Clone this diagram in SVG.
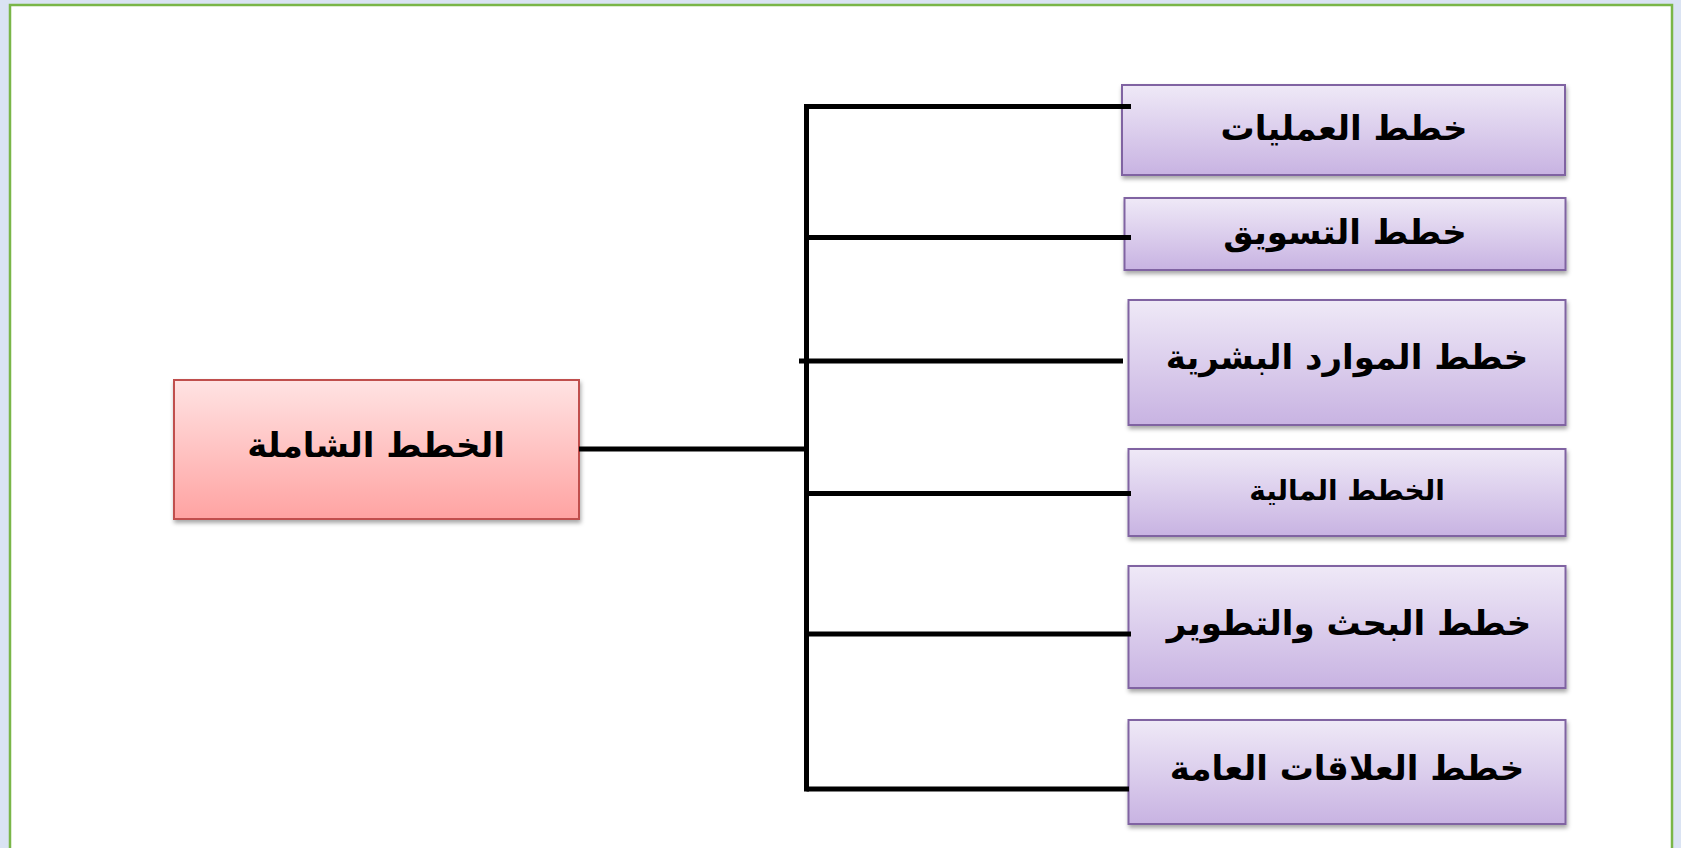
<svg xmlns="http://www.w3.org/2000/svg" width="1681" height="848" viewBox="0 0 1681 848">
<defs>
<linearGradient id="gPurple" x1="0" y1="0" x2="0" y2="1">
<stop offset="0" stop-color="#efe9f7"/>
<stop offset="1" stop-color="#c8b3e2"/>
</linearGradient>
<linearGradient id="gRed" x1="0" y1="0" x2="0" y2="1">
<stop offset="0" stop-color="#ffe3e3"/>
<stop offset="1" stop-color="#ffa3a2"/>
</linearGradient>
<filter id="sh" x="-10%" y="-10%" width="120%" height="130%">
<feDropShadow dx="1" dy="3" stdDeviation="2" flood-color="#000" flood-opacity="0.35"/>
</filter>
</defs>
<style>
.pbox{fill:url(#gPurple);stroke:#8064a2;stroke-width:2;filter:url(#sh)}
.rbox{fill:url(#gRed);stroke:#c0504d;stroke-width:2;filter:url(#sh)}
.lbl{font-family:"DejaVu Sans",sans-serif;font-weight:bold;font-size:34px;fill:#000;text-anchor:middle;dominant-baseline:central}
.conn line{stroke:#000;stroke-width:5}
</style>
<rect x="0" y="0" width="1681" height="848" fill="#dae3f3"/>
<rect x="10" y="5" width="1662" height="860" fill="#ffffff" stroke="#7ab648" stroke-width="2.5"/>
<g id="node-main">
<rect class="rbox" x="174" y="380" width="405" height="139"/>
<text class="lbl" x="376" y="445" direction="rtl">الخطط الشاملة</text>
</g>
<g id="node-operations">
<rect class="pbox" x="1122" y="85" width="443" height="90"/>
<text class="lbl" x="1344" y="128" direction="rtl">خطط العمليات</text>
</g>
<g id="node-marketing">
<rect class="pbox" x="1124.5" y="198" width="441" height="72"/>
<text class="lbl" x="1345" y="232" direction="rtl">خطط التسويق</text>
</g>
<g id="node-hr">
<rect class="pbox" x="1128.5" y="300" width="437" height="125"/>
<text class="lbl" x="1347" y="357" direction="rtl">خطط الموارد البشرية</text>
</g>
<g id="node-finance">
<rect class="pbox" x="1128.5" y="449" width="437" height="87"/>
<text class="lbl" x="1347" y="490" direction="rtl" style="font-size:28px">الخطط المالية</text>
</g>
<g id="node-rd">
<rect class="pbox" x="1128.5" y="566" width="437" height="122"/>
<text class="lbl" x="1349" y="623" direction="rtl">خطط البحث والتطوير</text>
</g>
<g id="node-pr">
<rect class="pbox" x="1128.5" y="720" width="437" height="104"/>
<text class="lbl" x="1347" y="768" direction="rtl">خطط العلاقات العامة</text>
</g>
<g id="connectors" class="conn">
<line x1="806.5" y1="104" x2="806.5" y2="791.5"/>
<line x1="579" y1="449" x2="806.5" y2="449"/>
<line x1="806.5" y1="106.5" x2="1131" y2="106.5"/>
<line x1="806.5" y1="237.5" x2="1131" y2="237.5"/>
<line x1="799" y1="361" x2="1123" y2="361"/>
<line x1="806.5" y1="493.5" x2="1131" y2="493.5"/>
<line x1="806.5" y1="634" x2="1131" y2="634"/>
<line x1="806.5" y1="789" x2="1129" y2="789"/>
</g>
</svg>
